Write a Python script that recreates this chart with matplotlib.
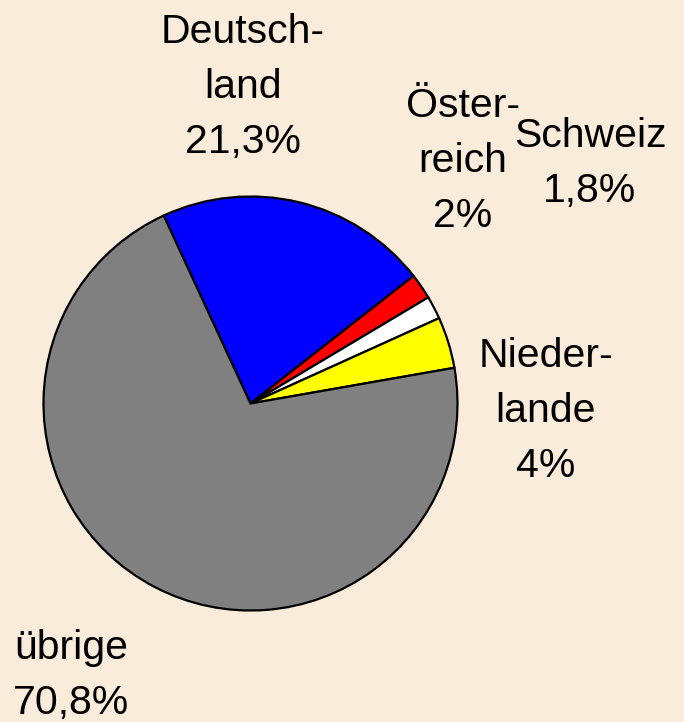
"""
 Pie chart: shares by country
"""
import matplotlib
matplotlib.use('Agg')
import matplotlib.pyplot as plt

W, H = 684, 722

countries = ["Deutschland", "Österreich", "Schweiz", "Niederlande", "übrige"]
shares = [21.3, 2.0, 1.8, 4.0, 70.8]
colors = ["#0000ff", "#ff0000", "#ffffff", "#ffff00", "#808080"]
label_lines = [
    ["Deutsch-", "land", "21,3%"],
    ["Öster-", "reich", "2%"],
    ["Schweiz", "1,8%"],
    ["Nieder-", "lande", "4%"],
    ["übrige", "70,8%"],
]

# label anchors in pixels (center x, first baseline y from top)
label_pos = [(243, 43), (463, 117), (590, 147), (546, 367), (71, 659)]
LINE_STEP = 55

BG = "#faecdb"

plt.rcParams['font.family'] = ['Liberation Sans', 'DejaVu Sans']

fig = plt.figure(figsize=(W / 100, H / 100), dpi=100)
fig.patch.set_facecolor(BG)
ax = fig.add_axes([0, 0, 1, 1])
ax.set_facecolor(BG)

ax.pie(shares, colors=colors, startangle=114.8, counterclock=False,
       center=(250.5, H - 403.5), radius=207, frame=True,
       wedgeprops=dict(edgecolor='black', linewidth=1.6))
ax.set_xlim(0, W)
ax.set_ylim(0, H)
ax.set_aspect('equal')
ax.axis('off')

for lines, (x, y) in zip(label_lines, label_pos):
    for i, line in enumerate(lines):
        ax.text(x, H - (y + i * LINE_STEP), line, fontsize=29.5,
                ha='center', va='baseline', color='black')

fig.savefig('out.png', dpi=100, facecolor=BG)
